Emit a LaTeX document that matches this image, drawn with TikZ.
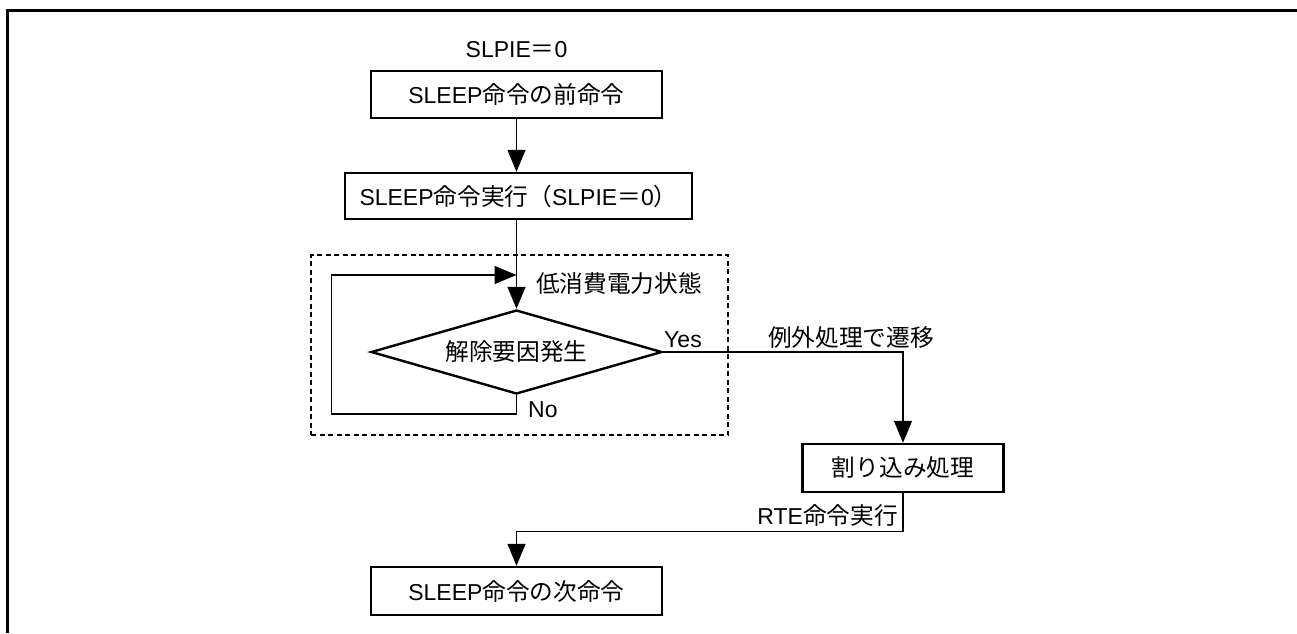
\documentclass[tikz,border=0pt]{standalone}
\usepackage{fontspec}
\setmainfont{Liberation Sans}
\newfontfamily\jp[Scale=1.03]{Noto Sans CJK JP}
\usetikzlibrary{arrows.meta,shapes.geometric}
\begin{document}
\begin{tikzpicture}[x=1pt,y=-1pt,
  every node/.style={font=\fontsize{23}{27}\selectfont, text=black},
  procbox/.style={draw, line width=2.4pt, minimum height=47pt, inner sep=0pt, anchor=center},
  lbl/.style={inner sep=0pt},
  conn/.style={line width=1.4pt},
  arr/.style={conn, -{Triangle[length=22pt,width=18pt]}},
  frameline/.style={line width=3pt},
  dashbox/.style={draw, line width=1.1pt, dash pattern=on 5pt off 3.5pt, inner sep=0pt},
]
\useasboundingbox (0,0) rectangle (1297,633);
% frame (top and left only)
\coordinate (ftr) at (1297,10);
\coordinate (ftl) at (7,10);
\coordinate (fbl) at (7,633);
\draw[frameline] (ftr) -- (ftl) -- (fbl);

% low-power dashed region
\node[dashbox, minimum width=417pt, minimum height=180pt] (lowpower) at (519.5,345) {};

% nodes
\node[lbl] (slp) at (516.5,50) {SLPIE{\jp ＝}0};
\node[procbox, minimum width=291pt] (b1) at (516.5,94.5) {SLEEP{\jp 命令の前命令}};
\node[procbox, minimum width=347pt, minimum height=46pt] (b2) at (518.5,196) {SLEEP{\jp 命令実行（}SLPIE{\jp ＝}0{\jp ）}};
\node[diamond, draw, line width=2.4pt, minimum width=291pt, minimum height=84pt, inner sep=0pt, aspect=3.46] (dia) at (516.5,352) {\jp 解除要因発生};
\node[lbl, anchor=west] (lpl) at (536,283) {\jp 低消費電力状態};
\node[lbl] (yes) at (683,340) {Yes};
\node[lbl, anchor=west] (no) at (528,410) {No};
\node[lbl] (exc) at (851,337) {\jp 例外処理で遷移};
\node[procbox, minimum width=201pt, minimum height=48pt] (intr) at (903,468) {\jp 割り込み処理};
\node[lbl, anchor=east] (rte) at (898,515) {RTE{\jp 命令実行}};
\node[procbox, minimum width=291pt, minimum height=48pt] (b3) at (516.5,591) {SLEEP{\jp 命令の次命令}};

% helper coordinates
\coordinate (lb) at (331.5,414);
\coordinate (merge) at (516.5,275);
\coordinate (rc) at (903,531.5);

% connectors
\draw[arr] (b1.south) -- (b1.south |- b2.north);
\draw[arr] (b1.south |- b2.south) -- (dia.north);
\draw[arr] (dia.south) |- (lb) |- (merge);
\draw[arr] (dia.east) -| (intr.north);
\draw[arr] (intr.south) -- (rc) -| (b3.north);
\end{tikzpicture}
\end{document}
